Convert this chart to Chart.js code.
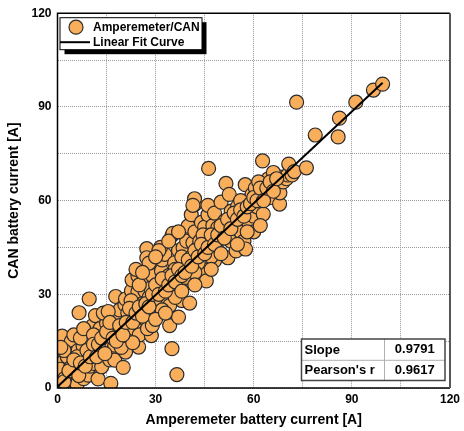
<!DOCTYPE html>
<html>
<head>
<meta charset="utf-8">
<script src="https://cdn.jsdelivr.net/npm/chart.js@4/dist/chart.umd.min.js"></script>
<style>
  html, body { margin: 0; padding: 0; background: #fff; }
  #wrap { width: 464px; height: 431px; }
</style>
</head>
<body>
<div id="wrap"><canvas id="current-chart"></canvas></div>
<script>
// --- measured battery current, ampere meter (x) vs CAN bus (y) ---
const ampCurrent = [
  // 0 - 12 A
  0.5, 1.3, 1.4, 1.8, 1.4, 2.5, 3, 3.8, 4.2, 4.3, 4.5, 5, 5.5, 6, 6.3, 6.6, 6.9, 7.5, 7.8, 8,
  8.9, 8.9, 9.4, 9.7, 9.5, 10, 10.5, 10.8, 3, 2, 5, 7, 8, 0.8, 2.2, 4, 6, 1, 11.6,
  // 11 - 21 A
  11.4, 12.4, 12.4, 13.2, 13.5, 12, 13, 14, 15, 15, 16, 16.3, 16, 17, 17.5, 17.5, 17.8, 18, 18.5, 19.6,
  19, 20.1, 20.8, 20, 20.6, 14, 16.5, 15.5, 11, 19.5,
  // 20 - 30 A
  20.8, 21.1, 22.6, 22.8, 22, 23, 23.5, 24.6, 24.8, 24.6, 24.6, 24.6, 25, 25.5, 26.2, 26.7, 26.7, 26, 27.3, 27.3,
  27, 28, 28.7, 28.7, 28.5, 29.2, 29.5, 29, 30, 21.5, 23, 27.5, 22.5, 25, 29,
  // 30 - 40 A
  30.7, 31, 31.8, 32, 32.8, 33, 33.8, 34.3, 34.3, 34, 35, 35, 35.3, 35.8, 35.8, 35, 36.5, 36, 37, 37,
  37.5, 38.4, 38.9, 38.9, 38, 39, 39.5, 39.9, 40.4, 40, 33, 31.5, 36, 32, 38,
  // 40 - 50 A
  40.9, 45, 41.4, 41.9, 41.9, 41.4, 41, 42.9, 42, 43, 44, 44, 44.5, 45, 45.5, 43.5, 46, 46, 46.2, 46,
  47, 47.5, 48, 48, 49, 49, 50, 50.1, 43, 42, 48.5, 44.5, 47,
  // 50 - 60 A
  51.1, 51.5, 52.1, 52, 53.1, 53, 54.6, 54, 55.1, 55, 56, 56.5, 57.4, 57, 58, 58.5, 59, 59.5, 60, 60,
  52.5, 56, 57.5,
  // 60 - 73 A
  60.5, 61, 62.7, 62.9, 63, 63.6, 64, 64.5, 65, 65.5, 66, 67, 67.9, 68.1, 68, 69, 70, 70.4, 70.7, 71.7,
  72.4, 66, 61.5, 62,
  // high load
  73.1, 76.1, 78.8, 85.8, 86.2, 91.2, 96.6, 99.4,
  // samples close to the fit line
  2, 3.5, 5, 6.5, 7, 8.5, 9, 10, 11, 12, 12.5, 13.5, 14.5, 15, 16, 17, 18, 19, 20, 21,
  22, 23, 24, 25, 26, 27, 28, 29, 30, 31, 32, 33, 34, 35, 36, 37, 38, 39, 40, 41,
  42, 43, 44, 45, 46, 47, 48, 49, 50, 51, 52, 53, 54, 55, 56, 57, 58, 59, 60, 61,
  62, 63, 64, 65, 66, 67,
  // band edges
  24, 28, 31, 34, 37, 30, 26, 30, 33, 38, 42, 47, 50, 55, 58, 62
];

const canCurrent = [
  1, 1, 4.4, 8.4, 16.6, 6, 2.5, 4.1, 14.9, 8.9, 11, 3, 7, 1.2, 12, 24.1, 5.7, 9, 13.5, 3,
  10.5, 18.1, 4.1, 28.5, 15, 7, 12, 20, 10, 12, 17, 16, 19, 6, 3, 6.5, 10, 13, 23.2,

  7.8, 2.9, 12.3, 11.5, 6.8, 16, 19, 14, 14.7, 20.7, 14.7, 1.5, 9, 12, 8.9, 13.7, 29.3, 18, 22, 16.3,
  25, 6.6, 11.5, 20, 26.7, 24, 17, 24.5, 17, 13,

  28.5, 16.8, 31.1, 34.6, 22, 25, 19, 20.6, 13.1, 28, 30.9, 35.9, 17, 23, 34.3, 31.1, 35.2, 27, 44.6, 41.7,
  22, 29, 24.2, 16.8, 32, 39.1, 26, 36, 30, 24, 14.5, 19, 28, 33, 20,

  28, 33, 37.5, 41, 42.8, 30, 26.9, 26.4, 20, 36, 12.6, 48.9, 49.5, 40.1, 35.4, 31, 4.3, 38, 22.7, 44,
  33, 44.9, 35.4, 49.2, 28, 40, 47, 51.8, 27.2, 38, 34, 45, 29, 25, 42,

  55.5, 44, 46.5, 58.7, 60.6, 58.5, 42, 34.9, 50, 45, 42.8, 53, 38, 51.5, 34.3, 47, 55.5, 58.5, 70.3, 47,
  46, 52, 40.7, 56, 51.3, 44, 59.5, 48.1, 40, 37, 48, 49, 42,

  53.4, 65.5, 41.7, 50, 56.6, 47, 43.9, 53, 51.3, 58, 50, 55, 65.1, 47, 60, 53, 57, 62, 50, 55,
  62, 60, 44.5,

  64, 58, 72.7, 55.7, 62, 65, 60.7, 67, 63, 61, 66, 64, 58.9, 67.5, 62.5, 66, 67, 68.2, 71.7, 68.2,
  69.3, 69, 66, 62,

  91.5, 70.5, 81, 80.4, 86.4, 91.5, 95.4, 97.3,

  2, 5.5, 9, 4, 8, 7, 12, 10, 14, 10, 14, 16, 11, 18, 21, 16, 15, 20, 17, 21,
  25.5, 21, 24, 26, 23, 27, 26, 30, 33, 30, 35, 31, 33, 36, 34, 38, 36, 37, 41, 39,
  44, 42, 46, 43, 45, 49, 46, 49, 52, 48, 54, 51, 56, 54, 57, 55, 58, 59, 61, 60,
  64, 60, 64, 66, 63, 67,

  38, 40, 44, 47, 50, 42, 37, 22, 24, 31, 33, 38, 43, 46, 50, 52
];

// linear fit result
const fitSlope = 0.9791;
const fitIntercept = 0.4;
const pearsonR = 0.9617;
const fitRange = [0, 99.4];

const axisTicks = [0, 30, 60, 90, 120];
const gridStep = 15;

const fontFamily = "'Liberation Sans', Arial, sans-serif";
const markerFill = '#F8AE5B';
const markerEdge = '#2b2b2b';

const scatterPoints = ampCurrent.map((x, i) => ({ x: x, y: canCurrent[i] }));
const fitPoints = fitRange.map(x => ({ x: x, y: fitSlope * x + fitIntercept }));

// black frame round the plot area
const framePlugin = {
  id: 'plotFrame',
  afterDatasetsDraw(chart) {
    const { ctx, chartArea: a } = chart;
    ctx.save();
    ctx.strokeStyle = '#000';
    ctx.lineWidth = 1.5;
    ctx.beginPath();
    ctx.moveTo(a.right, a.top);
    ctx.lineTo(a.left, a.top);
    ctx.lineTo(a.left, a.bottom);
    ctx.lineTo(a.right, a.bottom);
    ctx.stroke();
    ctx.strokeStyle = '#555';
    ctx.lineWidth = 2;
    ctx.beginPath();
    ctx.moveTo(a.right, a.top);
    ctx.lineTo(a.right, a.bottom);
    ctx.stroke();
    ctx.restore();
  }
};

// legend box with drop shadow, top left
const legendPlugin = {
  id: 'boxLegend',
  afterDraw(chart) {
    const { ctx, chartArea: a } = chart;
    const x = a.left + 2.5, y = a.top + 4.5, w = 142, h = 32;
    ctx.save();
    ctx.fillStyle = '#000';
    ctx.fillRect(x + 4.5, y + 4.5, w, h);
    ctx.fillStyle = '#fff';
    ctx.fillRect(x, y, w, h);
    ctx.strokeStyle = '#000';
    ctx.lineWidth = 1;
    ctx.strokeRect(x, y, w, h);

    ctx.beginPath();
    ctx.arc(x + 16, y + 9.5, 7, 0, Math.PI * 2);
    ctx.fillStyle = markerFill;
    ctx.fill();
    ctx.lineWidth = 1.2;
    ctx.strokeStyle = markerEdge;
    ctx.stroke();

    ctx.beginPath();
    ctx.moveTo(x, y + 24.5);
    ctx.lineTo(x + 30, y + 24.5);
    ctx.lineWidth = 2;
    ctx.strokeStyle = '#000';
    ctx.stroke();

    ctx.fillStyle = '#000';
    ctx.font = 'bold 12px ' + fontFamily;
    ctx.textBaseline = 'middle';
    ctx.textAlign = 'left';
    ctx.fillText('Amperemeter/CAN', x + 33, y + 10);
    ctx.fillText('Linear Fit Curve', x + 33, y + 25);
    ctx.restore();
  }
};

// fit statistics table, bottom right
const statsPlugin = {
  id: 'fitStats',
  afterDraw(chart) {
    const { ctx, chartArea: a } = chart;
    const w = 143.5, h = 41.5;
    const x = a.right - 5 - w, y = a.bottom - 7.5 - h;
    const colSplit = x + 83, rowSplit = y + 21.3;
    ctx.save();
    ctx.fillStyle = '#fff';
    ctx.fillRect(x, y, w, h);
    ctx.strokeStyle = '#b0b0b0';
    ctx.lineWidth = 1;
    ctx.beginPath();
    ctx.moveTo(colSplit, y);
    ctx.lineTo(colSplit, y + h);
    ctx.moveTo(x, rowSplit);
    ctx.lineTo(x + w, rowSplit);
    ctx.stroke();
    ctx.strokeStyle = '#444';
    ctx.lineWidth = 1.5;
    ctx.strokeRect(x, y, w, h);

    ctx.fillStyle = '#000';
    ctx.font = 'bold 13px ' + fontFamily;
    ctx.textBaseline = 'middle';
    ctx.textAlign = 'left';
    ctx.fillText('Slope', x + 3, y + 11.5);
    ctx.fillText("Pearson's r", x + 3, rowSplit + 10.5);
    ctx.textAlign = 'center';
    const cx = (colSplit + x + w) / 2;
    ctx.fillText(fitSlope.toFixed(4), cx, y + 10.5);
    ctx.fillText(pearsonR.toFixed(4), cx, rowSplit + 10);
    ctx.restore();
  }
};

function axisOptions(titleText, isY) {
  return {
    type: 'linear',
    min: axisTicks[0],
    max: axisTicks[axisTicks.length - 1],
    afterFit(scale) {
      if (isY) scale.width = 57.5; else scale.height = 43;
    },
    afterBuildTicks(scale) {
      const ticks = [];
      for (let v = scale.min; v <= scale.max; v += gridStep) ticks.push({ value: v });
      scale.ticks = ticks;
    },
    ticks: {
      padding: isY ? 6 : 4,
      color: '#000',
      font: { family: fontFamily, size: 12, weight: 'bold' },
      maxRotation: 0,
      autoSkip: false,
      callback: v => (axisTicks.includes(v) ? v : '')
    },
    grid: {
      color: '#9a9a9a',
      lineWidth: 1,
      drawTicks: false
    },
    border: { display: false, dash: [1, 1] },
    title: {
      display: true,
      text: titleText,
      color: '#000',
      font: { family: fontFamily, size: 14, weight: 'bold' },
      padding: isY ? { top: 6, bottom: 0 } : { top: 0, bottom: 2 }
    }
  };
}

new Chart(document.getElementById('current-chart'), {
  type: 'scatter',
  data: {
    datasets: [
      {
        type: 'line',
        label: 'Linear Fit Curve',
        data: fitPoints,
        borderColor: '#000',
        borderWidth: 2,
        pointRadius: 0,
        fill: false,
        order: 0
      },
      {
        label: 'Amperemeter/CAN',
        data: scatterPoints,
        pointRadius: 7,
        pointHoverRadius: 7,
        backgroundColor: markerFill,
        borderColor: markerEdge,
        borderWidth: 1.2,
        clip: 0,
        order: 1
      }
    ]
  },
  options: {
    responsive: true,
    maintainAspectRatio: false,
    animation: false,
    events: [],
    layout: { padding: { left: 0, right: 13, top: 10.5, bottom: 0 } },
    plugins: {
      legend: { display: false },
      tooltip: { enabled: false }
    },
    scales: {
      x: axisOptions('Amperemeter battery current [A]', false),
      y: axisOptions('CAN battery current [A]', true)
    }
  },
  plugins: [framePlugin, legendPlugin, statsPlugin]
});
</script>
</body>
</html>
